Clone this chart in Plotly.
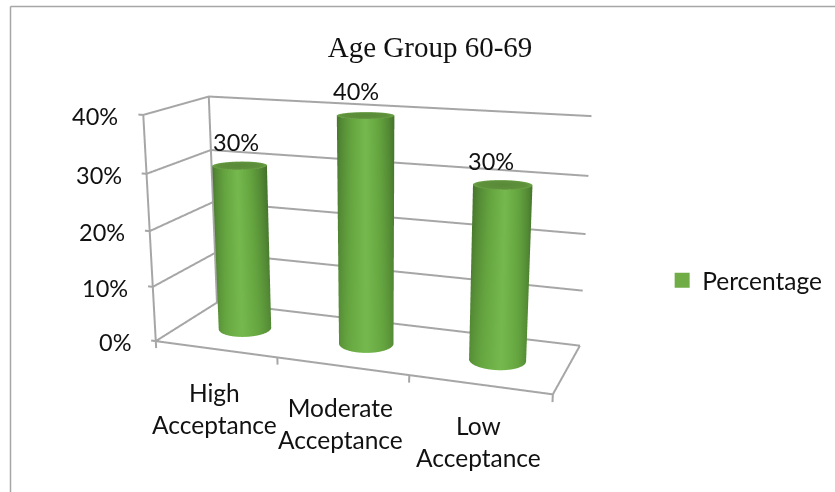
import numpy as np
import plotly.graph_objects as go

# Chart data
categories = ["High<br>Acceptance", "Moderate<br>Acceptance", "Low<br>Acceptance"]
values = [0.30, 0.40, 0.30]
value_labels = ["30%", "40%", "30%"]
ticks = [0.0, 0.1, 0.2, 0.3, 0.4]
tick_labels = ["0%", "10%", "20%", "30%", "40%"]

# Plot box: three category slots wide, one unit deep
X_RANGE = (-1.0, 5.0)
Y_RANGE = (-0.4, 1.4)
Z_RANGE = (-0.3, 0.7)
BOX_W, BOX_D, BOX_H = 3.0, 1.0, 0.4
MID_DEPTH = 0.5

# Oblique skew of the box, and the floor vectors that point along screen x and y
SKEW = dict(xy=0.1988, zy=0.0461, xz=-0.2394, yz=0.0060)
FLOOR_U = np.array([0.00681, 0.00248])
FLOOR_V = np.array([0.00996, -0.02719])

GRID = "#a6a6a6"
TEXT = "#111111"
UI_FONT = "Lato"
FLAT = dict(ambient=1, diffuse=0, specular=0, fresnel=0, roughness=1)


def skew(x, y, z):
    x, y, z = np.asarray(x, float), np.asarray(y, float), np.asarray(z, float)
    return (x + SKEW["xy"] * y + SKEW["xz"] * z,
            y + SKEW["yz"] * z,
            z + SKEW["zy"] * y)


fig = go.Figure()


def add_line(points):
    xs, ys, zs = skew(*zip(*points))
    fig.add_trace(go.Scatter3d(x=xs, y=ys, z=zs, mode="lines",
                               line=dict(color=GRID, width=4),
                               showlegend=False, hoverinfo="skip"))


# Gridlines on the left and back walls, with outward tick stubs
for t in ticks:
    add_line([(-0.04, 0, t), (0, 0, t), (0, BOX_D, t), (BOX_W, BOX_D, t)])
add_line([(0, 0, 0), (0, 0, BOX_H)])
add_line([(0, BOX_D, 0), (0, BOX_D, BOX_H)])

# Floor outline and category ticks
add_line([(BOX_W, BOX_D, 0), (BOX_W, 0, 0), (0, 0, 0)])
for i in range(len(categories) + 1):
    add_line([(i, 0, 0), (i, 0, -0.013)])

# Cylinders: a shaded front half plus a lid
BODY_SCALE = [[0.0, "#426f2a"], [0.3, "#548a35"], [0.65, "#66a640"], [1.0, "#75b94e"]]
CAP_SCALE = [[0.0, "#598a38"], [0.8, "#5f913c"], [1.0, "#6ba345"]]
RX_PX, RY_BASE_PX, RY_TOP_PX = 28.0, 7.0, 5.5

theta = np.linspace(0, np.pi, 73)
levels = np.linspace(0, 1, 9)
ring = np.linspace(0, 2 * np.pi, 73)
spokes = np.linspace(0, 1, 9)
for i, v in enumerate(values):
    cx, cy = i + 0.5, MID_DEPTH
    tt, ll = np.meshgrid(theta, levels)
    rr = RY_BASE_PX + (RY_TOP_PX - RY_BASE_PX) * ll
    px = RX_PX * np.cos(tt)
    py = rr * np.sin(tt)
    sx, sy, sz = skew(cx + px * FLOOR_U[0] + py * FLOOR_V[0],
                      cy + px * FLOOR_U[1] + py * FLOOR_V[1], ll * v)
    across = 1 - np.abs(np.cos(tt))
    shade = across ** 0.8 + 0.28 * (1 - ll) * (1 - across)
    shade = shade + 0.06 * (tt > np.pi / 2) * (1 - across)
    fig.add_trace(go.Surface(x=sx, y=sy, z=sz, surfacecolor=np.clip(shade, 0, 1), cmin=0, cmax=1,
                             colorscale=BODY_SCALE, showscale=False, hoverinfo="skip", lighting=FLAT))
    # Lid
    tc, rc = np.meshgrid(ring, spokes)
    px = RX_PX * rc * np.cos(tc)
    py = RY_TOP_PX * rc * np.sin(tc)
    cxs, cys, czs = skew(cx + px * FLOOR_U[0] + py * FLOOR_V[0],
                         cy + px * FLOOR_U[1] + py * FLOOR_V[1],
                         np.full(tc.shape, v))
    fig.add_trace(go.Surface(x=cxs, y=cys, z=czs, surfacecolor=rc, cmin=0, cmax=1,
                             colorscale=CAP_SCALE, showscale=False, hoverinfo="skip", lighting=FLAT))

# Legend entry for the series, seated inside the tallest cylinder
lx, ly, lz = skew([1.5], [MID_DEPTH], [0.2])
fig.add_trace(go.Scatter3d(x=lx, y=ly, z=lz, mode="markers", name="Percentage",
                           marker=dict(symbol="square", size=15, color="#70ad47"),
                           showlegend=True, hoverinfo="skip"))

notes = []
for t, label in zip(ticks, tick_labels):
    ax, ay, az = skew(0, 0, t)
    notes.append(dict(x=float(ax), y=float(ay), z=float(az), text=label, showarrow=False,
                      xanchor="right", yanchor="middle", xshift=-23, yshift=-1,
                      font=dict(family=UI_FONT, size=23.5, color=TEXT)))
for i, (v, label) in enumerate(zip(values, value_labels)):
    ax, ay, az = skew(i + 0.5, MID_DEPTH, v)
    notes.append(dict(x=float(ax), y=float(ay), z=float(az), text=label, showarrow=False,
                      xanchor="center", yanchor="middle", xshift=[-4, -10, -12][i], yshift=24,
                      font=dict(family=UI_FONT, size=23.5, color=TEXT)))
for i, label in enumerate(categories):
    ax, ay, az = skew(i + 0.5, 0, 0)
    notes.append(dict(x=float(ax), y=float(ay), z=float(az), text=label, showarrow=False,
                      xanchor="center", yanchor="middle", xshift=[-1, -1, -1][i], yshift=[-59, -57, -57][i],
                      font=dict(family=UI_FONT, size=24.5, color=TEXT)))

fig.update_layout(
    width=835, height=492,
    margin=dict(l=0, r=0, t=0, b=0),
    paper_bgcolor="white",
    title=dict(text="Age Group 60-69", x=0.515, xanchor="center", y=0.905, yanchor="middle",
               font=dict(family="Liberation Serif", size=29, color="#111111")),
    showlegend=True,
    legend=dict(x=0.793, y=0.43, xanchor="left", yanchor="middle", itemsizing="trace",
                font=dict(family=UI_FONT, size=24.5, color=TEXT), bgcolor="rgba(0,0,0,0)"),
    scene=dict(
        domain=dict(x=[0, 1], y=[0, 1]),
        xaxis=dict(range=list(X_RANGE), visible=False),
        yaxis=dict(range=list(Y_RANGE), visible=False),
        zaxis=dict(range=list(Z_RANGE), visible=False),
        aspectmode="manual",
        aspectratio=dict(x=6.4681, y=1.0708, z=4.5954),
        camera=dict(eye=dict(x=0.7876, y=-4.5674, z=0.7608),
                    center=dict(x=-0.0552, y=-0.0051, z=0.0375),
                    up=dict(x=-0.0633, y=-0.0124, z=1)),
        annotations=notes,
    ),
    shapes=[
        dict(type="line", xref="paper", yref="paper", x0=10.5 / 835, x1=10.5 / 835, y0=0, y1=1 - 6.5 / 492,
             line=dict(color=GRID, width=1.5)),
        dict(type="line", xref="paper", yref="paper", x0=10.5 / 835, x1=1, y0=1 - 6.5 / 492, y1=1 - 6.5 / 492,
             line=dict(color=GRID, width=1.5)),
    ],
)

fig.write_html("out.html")
